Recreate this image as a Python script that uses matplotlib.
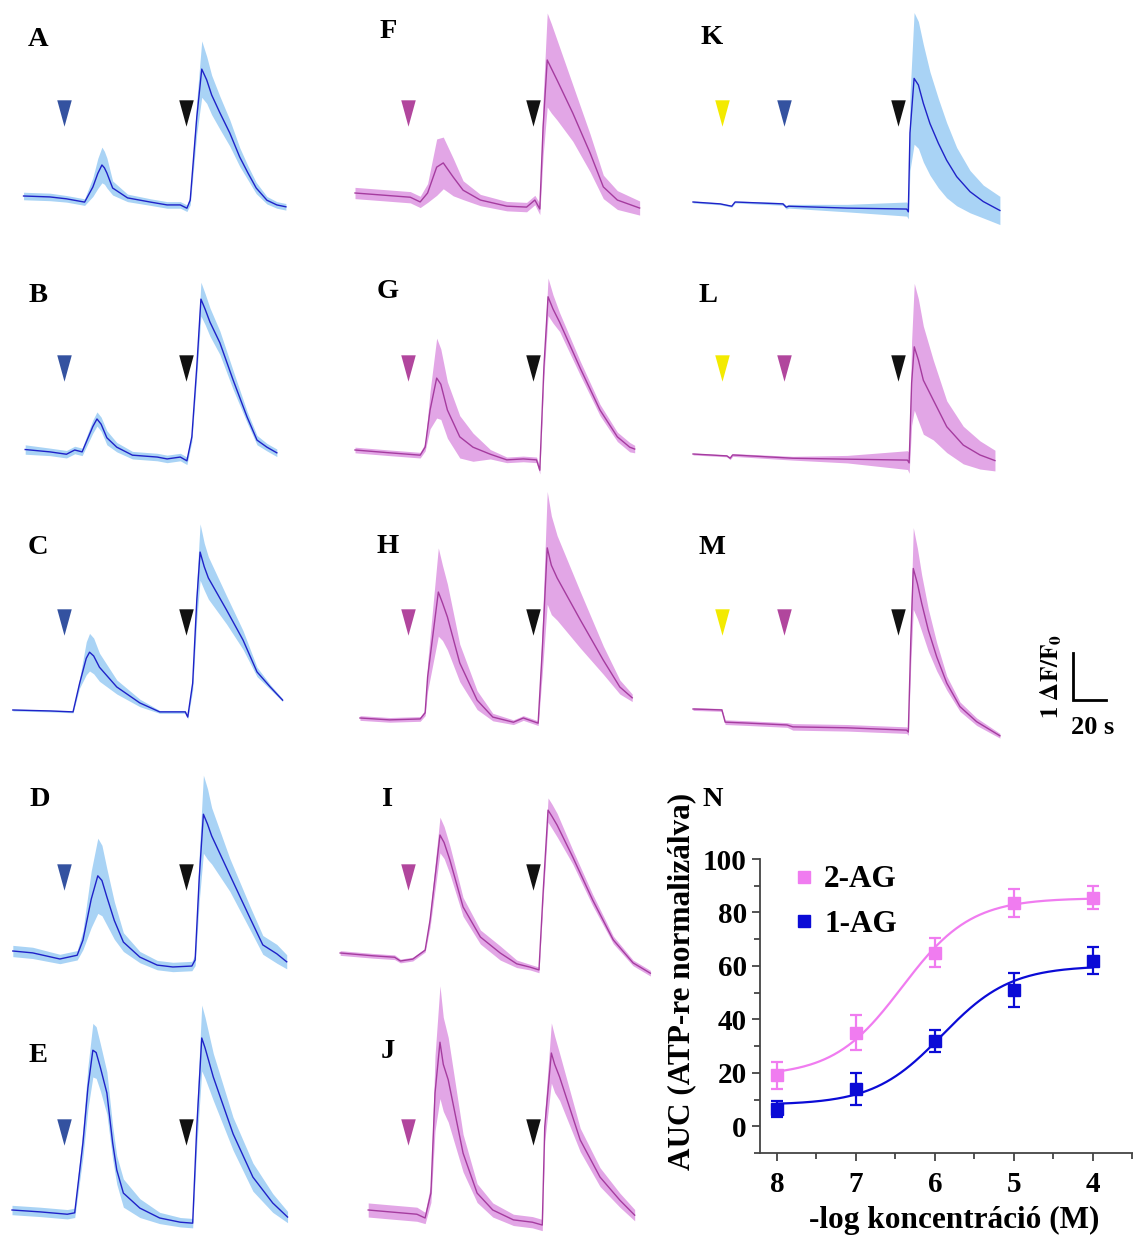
import numpy as np
import matplotlib
matplotlib.use('Agg')
import matplotlib.pyplot as plt
from matplotlib.path import Path
from matplotlib.lines import Line2D
from matplotlib.ticker import MultipleLocator

# ---- traces: time (s), mean dF/F0, SEM ----
A_t = [7, 23, 33, 44, 49, 52, 54.5, 56, 57.5, 61, 70, 84, 94, 102, 106, 108, 112, 115, 118, 121, 126, 132, 138, 143, 148, 154.5, 160.5, 166]
A_v = [0, -0.02, -0.06, -0.13, 0.19, 0.48, 0.66, 0.6, 0.49, 0.17, -0.04, -0.13, -0.19, -0.19, -0.26, -0.09, 1.68, 2.70, 2.47, 2.15, 1.77, 1.34, 0.83, 0.49, 0.17, -0.09, -0.19, -0.23]
A_s = [0.08, 0.08, 0.07, 0.07, 0.2, 0.32, 0.38, 0.35, 0.32, 0.15, 0.08, 0.07, 0.07, 0.07, 0.07, 0.1, 0.35, 0.6, 0.5, 0.42, 0.35, 0.28, 0.2, 0.15, 0.12, 0.08, 0.07, 0.07]

B_t = [8, 23, 33, 38, 42.5, 49, 51.5, 54, 57.5, 63.5, 73, 88, 94, 102, 106, 109, 112, 114.5, 117, 120, 126, 134, 142.5, 148.5, 154.5, 160.5]
B_v = [0.01, -0.04, -0.09, 0, -0.04, 0.5, 0.66, 0.55, 0.26, 0.06, -0.11, -0.15, -0.19, -0.15, -0.23, 0.28, 1.77, 3.21, 3.0, 2.72, 2.28, 1.49, 0.70, 0.21, 0.06, -0.06]
B_s = [0.1, 0.08, 0.08, 0.08, 0.08, 0.14, 0.15, 0.15, 0.15, 0.1, 0.08, 0.08, 0.08, 0.08, 0.08, 0.1, 0.2, 0.36, 0.33, 0.3, 0.25, 0.2, 0.12, 0.1, 0.08, 0.08]

C_t = [0.5, 23, 37, 41, 45, 47, 49.5, 53, 63.5, 77.5, 89.5, 97.5, 105, 106.5, 109.5, 112, 114, 116.5, 119, 130, 140, 148.5, 156.5, 164]
C_v = [0, -0.02, -0.04, 0.57, 1.1, 1.23, 1.15, 0.91, 0.49, 0.15, -0.04, -0.04, -0.04, -0.15, 0.57, 2.34, 3.36, 3.05, 2.81, 2.13, 1.49, 0.81, 0.49, 0.21]
C_s = [0.02, 0.02, 0.02, 0.1, 0.35, 0.4, 0.38, 0.3, 0.15, 0.08, 0.03, 0.03, 0.03, 0.04, 0.15, 0.4, 0.6, 0.5, 0.45, 0.3, 0.2, 0.1, 0.05, 0.03]

D_t = [0.5, 12.5, 29, 39.5, 43, 48, 52, 54.5, 57.5, 62, 67.5, 77.5, 88, 97.5, 109, 111, 113.5, 116, 118.5, 121, 132, 144, 152, 160.5, 166.5]
D_v = [0, -0.04, -0.17, -0.09, 0.23, 1.1, 1.60, 1.5, 1.15, 0.65, 0.19, -0.13, -0.30, -0.34, -0.32, -0.19, 1.57, 2.91, 2.7, 2.45, 1.62, 0.72, 0.13, -0.06, -0.23]
D_s = [0.12, 0.12, 0.1, 0.1, 0.2, 0.6, 0.8, 0.75, 0.6, 0.4, 0.2, 0.12, 0.1, 0.1, 0.1, 0.12, 0.5, 0.83, 0.75, 0.6, 0.35, 0.25, 0.2, 0.2, 0.15]

E_t = [0, 17, 33.5, 38, 43, 46, 49, 51, 53.5, 57.5, 61, 63.5, 67.5, 77.5, 89.5, 102, 109.5, 112, 115, 117, 122, 134, 146, 158, 167]
E_v = [0, -0.04, -0.09, -0.06, 1.43, 2.6, 3.40, 3.35, 3.04, 2.49, 1.43, 0.85, 0.36, 0.04, -0.17, -0.26, -0.28, 1.77, 3.66, 3.45, 2.83, 1.62, 0.70, 0.15, -0.15]
E_s = [0.1, 0.1, 0.1, 0.1, 0.3, 0.45, 0.57, 0.55, 0.5, 0.45, 0.35, 0.3, 0.3, 0.2, 0.12, 0.1, 0.1, 0.4, 0.7, 0.65, 0.5, 0.35, 0.3, 0.2, 0.12]

F_t = [0, 15, 33.5, 39.5, 44, 49.5, 53.5, 59.5, 65.5, 76, 92, 104, 109, 112, 114, 116.5, 119, 122.5, 132, 142.5, 150.5, 159, 172.5]
F_v = [0, -0.04, -0.09, -0.19, 0, 0.55, 0.64, 0.34, 0.06, -0.15, -0.28, -0.30, -0.15, -0.34, 1.40, 2.83, 2.65, 2.40, 1.70, 0.85, 0.13, -0.15, -0.32]
F_s = [0.12, 0.12, 0.12, 0.12, 0.2, 0.6, 0.55, 0.4, 0.2, 0.12, 0.1, 0.1, 0.1, 0.12, 0.6, 1.0, 0.95, 0.85, 0.6, 0.4, 0.25, 0.2, 0.15]

G_t = [0, 21, 39.5, 42.5, 45.5, 49.5, 52, 56, 63.5, 71.5, 82, 92, 102, 110, 112, 114.5, 117, 120, 124, 136.5, 148.5, 159, 166.5, 169.5]
G_v = [0, -0.06, -0.11, 0.06, 0.85, 1.53, 1.4, 0.85, 0.28, 0.06, -0.09, -0.21, -0.19, -0.21, -0.43, 1.77, 3.26, 3.0, 2.72, 1.74, 0.85, 0.28, 0.06, 0.02]
G_s = [0.06, 0.06, 0.06, 0.08, 0.4, 0.85, 0.75, 0.6, 0.45, 0.3, 0.1, 0.06, 0.06, 0.06, 0.08, 0.2, 0.4, 0.3, 0.2, 0.15, 0.12, 0.1, 0.1, 0.08]

H_t = [3, 21, 39.5, 42.5, 44, 50.5, 53, 56, 63.5, 74, 83.5, 96, 102, 111, 113.5, 116.5, 119, 122.5, 136.5, 150.5, 160.5, 168]
H_v = [0, -0.04, -0.02, 0.11, 0.87, 2.68, 2.45, 2.15, 1.17, 0.38, 0.02, -0.09, 0, -0.11, 1.45, 3.62, 3.25, 2.98, 2.09, 1.23, 0.66, 0.43]
H_s = [0.05, 0.05, 0.05, 0.06, 0.3, 0.94, 0.8, 0.7, 0.4, 0.2, 0.08, 0.05, 0.05, 0.05, 0.5, 1.2, 1.05, 0.9, 0.6, 0.3, 0.15, 0.08]

I_t = [-9, 11, 24, 27.5, 35, 42.5, 45.5, 51.5, 54, 57.5, 65.5, 76, 88, 98, 106, 111.5, 114, 117, 119.5, 122.5, 132, 144, 156.5, 168.5, 179]
I_v = [0, -0.06, -0.09, -0.17, -0.13, 0.06, 0.70, 2.51, 2.35, 1.98, 0.98, 0.34, 0, -0.23, -0.30, -0.36, 1.28, 3.04, 2.9, 2.72, 2.04, 1.13, 0.28, -0.21, -0.43]
I_s = [0.05, 0.05, 0.05, 0.04, 0.04, 0.04, 0.15, 0.38, 0.34, 0.3, 0.2, 0.15, 0.15, 0.08, 0.06, 0.06, 0.15, 0.26, 0.26, 0.25, 0.15, 0.12, 0.08, 0.06, 0.06]

J_t = [8, 21, 37.5, 42.5, 46, 48.5, 51.5, 53.5, 56.5, 65.5, 74, 83.5, 96, 107.5, 113.5, 115, 119, 121, 124, 136.5, 148.5, 160.5, 169.5]
J_v = [0, -0.04, -0.09, -0.17, 0.36, 2.49, 3.57, 3.1, 2.77, 1.21, 0.36, 0, -0.21, -0.26, -0.32, 1.77, 3.34, 3.1, 2.83, 1.49, 0.70, 0.21, -0.11]
J_s = [0.15, 0.15, 0.15, 0.12, 0.2, 0.8, 1.2, 1.0, 0.9, 0.4, 0.2, 0.15, 0.12, 0.12, 0.12, 0.3, 0.64, 0.6, 0.5, 0.25, 0.2, 0.15, 0.12]

K_t = [0, 16.5, 23.5, 25.5, 54.5, 56.5, 58, 93.5, 129.5, 130.5, 131.5, 134, 136.6, 139.6, 143.6, 148.7, 153.7, 159.8, 167.9, 175.9, 186]
K_v = [0, -0.04, -0.09, 0, -0.04, -0.11, -0.09, -0.13, -0.15, -0.21, 1.47, 2.63, 2.49, 2.10, 1.67, 1.25, 0.89, 0.54, 0.22, 0.01, -0.18]
K_s = [0.02, 0.02, 0.02, 0.02, 0.03, 0.04, 0.04, 0.08, 0.15, 0.15, 0.8, 1.4, 1.35, 1.25, 1.1, 0.95, 0.8, 0.62, 0.45, 0.35, 0.3]

L_t = [0, 20.5, 22.5, 24, 60.5, 93.5, 130, 131, 132.5, 134.1, 136.6, 139.6, 145.6, 153.8, 163.8, 173.9, 183]
L_v = [0, -0.04, -0.09, -0.02, -0.09, -0.11, -0.13, -0.19, 1.51, 2.28, 2.0, 1.57, 1.15, 0.58, 0.19, -0.02, -0.14]
L_s = [0.02, 0.02, 0.03, 0.03, 0.04, 0.08, 0.2, 0.22, 0.9, 1.35, 1.3, 1.15, 0.85, 0.55, 0.4, 0.3, 0.22]

M_t = [0, 17.5, 19.5, 33, 57, 60.5, 93.5, 129.5, 130.5, 132, 133.5, 136, 138.6, 142.6, 147.7, 153.8, 161.8, 171.9, 186]
M_v = [0, -0.02, -0.28, -0.30, -0.34, -0.38, -0.40, -0.45, -0.49, 1.47, 2.99, 2.67, 2.25, 1.68, 1.11, 0.55, 0.05, -0.27, -0.57]
M_s = [0.03, 0.03, 0.05, 0.05, 0.05, 0.07, 0.07, 0.07, 0.07, 0.5, 0.87, 0.75, 0.6, 0.45, 0.3, 0.15, 0.1, 0.08, 0.05]

# application times (s) of drugs per column
col1_arrows = [('blue', 31.5), ('black', 105.5)]
col2_arrows = [('mag', 32), ('black', 108)]
colK_arrows = [('yellow', 17.6), ('blue', 55.2), ('black', 124.2)]
colLM_arrows = [('yellow', 17.6), ('mag', 55.2), ('black', 124.2)]

# ---- dose response (panel N) ----
conc = [8, 7, 6, 5, 4]
ag2_mean = [19, 35, 65, 83.5, 85.5]
ag2_err = [5, 6.6, 5.3, 5.2, 4.3]
ag1_mean = [6.5, 14, 32, 51, 62]
ag1_err = [3.1, 6, 4.2, 6.4, 5]

# ---- styling ----
plt.rcParams['font.family'] = ['Liberation Serif', 'DejaVu Serif']
plt.rcParams['font.weight'] = 'bold'
plt.rcParams['mathtext.fontset'] = 'stix'

BLUE_LINE, BLUE_BAND = '#1f22c8', '#a9d3f5'
PINK_LINE, PINK_BAND = '#a53c9f', '#e2a6e6'
ARROW_COL = {'blue': '#3452a0', 'mag': '#b1469d', 'black': '#111111', 'yellow': '#f3ea00'}
AG2_COL, AG1_COL = '#f07cf0', '#0b0bd6'

W, H = 1133, 1239
PX_S, PX_U = 1.65, 47.0   # pixels per second, pixels per dF/F0 unit
fig = plt.figure(figsize=(W / 100, H / 100), dpi=100)


def px_axes(left, top, width, height):
    return fig.add_axes([left / W, 1 - (top + height) / H, width / W, height / H])


tri = Path([(-0.55, 1), (0.55, 1), (0, -1), (-0.55, 1)],
           [Path.MOVETO, Path.LINETO, Path.LINETO, Path.CLOSEPOLY])

col_x0 = [12, 355, 693]
row_arrow_px = [113, 368, 622, 877, 1132]

# label, t, v, sem, color kind, column, row, zero line (px), arrows
panels = [
    ('A', A_t, A_v, A_s, 'blue', 0, 0, 196, col1_arrows),
    ('B', B_t, B_v, B_s, 'blue', 0, 1, 450, col1_arrows),
    ('C', C_t, C_v, C_s, 'blue', 0, 2, 710, col1_arrows),
    ('D', D_t, D_v, D_s, 'blue', 0, 3, 951, col1_arrows),
    ('E', E_t, E_v, E_s, 'blue', 0, 4, 1210, col1_arrows),
    ('F', F_t, F_v, F_s, 'pink', 1, 0, 193, col2_arrows),
    ('G', G_t, G_v, G_s, 'pink', 1, 1, 450, col2_arrows),
    ('H', H_t, H_v, H_s, 'pink', 1, 2, 718, col2_arrows),
    ('I', I_t, I_v, I_s, 'pink', 1, 3, 953, col2_arrows),
    ('J', J_t, J_v, J_s, 'pink', 1, 4, 1210, col2_arrows),
    ('K', K_t, K_v, K_s, 'blue', 2, 0, 202, colK_arrows),
    ('L', L_t, L_v, L_s, 'pink', 2, 1, 454, colLM_arrows),
    ('M', M_t, M_v, M_s, 'pink', 2, 2, 709, colLM_arrows),
]
label_px = {'A': (38, 40), 'B': (38, 295), 'C': (38, 548), 'D': (40, 800), 'E': (38, 1055),
            'F': (388, 32), 'G': (388, 291), 'H': (388, 547), 'I': (388, 800), 'J': (388, 1052),
            'K': (712, 38), 'L': (708, 295), 'M': (712, 548), 'N': (713, 800)}

T0, T1, V0, V1 = -12, 190, -1.0, 4.2
for lab, t, v, s, kind, col, row, zero, arrows in panels:
    ax = px_axes(col_x0[col] + T0 * PX_S, zero - V1 * PX_U, (T1 - T0) * PX_S, (V1 - V0) * PX_U)
    ax.set_xlim(T0, T1)
    ax.set_ylim(V0, V1)
    ax.axis('off')
    t, v, s = np.array(t), np.array(v), np.array(s)
    line_c, band_c = (BLUE_LINE, BLUE_BAND) if kind == 'blue' else (PINK_LINE, PINK_BAND)
    ax.fill_between(t, v - s, v + s, color=band_c, lw=0, clip_on=False)
    ax.plot(t, v, color=line_c, lw=1.0, clip_on=False, solid_joinstyle='round')
    av = (zero - row_arrow_px[row]) / PX_U
    for c, ta in arrows:
        ax.plot(ta, av, marker=tri, ms=19, color=ARROW_COL[c], mec='none', clip_on=False)

for lab, (x, y) in label_px.items():
    fig.text(x / W, 1 - y / H, lab, ha='center', va='center', fontsize=20.5, fontweight='bold')

# scale bar (20 s, 1 dF/F0)
axs = px_axes(1073, 700 - PX_U, 20 * PX_S, PX_U)
axs.set_xlim(0, 20)
axs.set_ylim(0, 1)
axs.axis('off')
axs.plot([0, 0, 20], [1, 0, 0], color='black', lw=2, clip_on=False, solid_joinstyle='miter')
fig.text(1093 / W, 1 - 728 / H, '20 s', ha='center', va='center', fontsize=19, fontweight='bold')
fig.text(1051 / W, 1 - 676 / H, r'$\mathbf{1\ \Delta F/F_0}$', ha='center', va='center',
         fontsize=18, rotation=90)

# ---- panel N ----
axN = px_axes(760, 859, 373, 294)


def fit_sigmoid(x, y):
    # least squares sigmoid (Hill slope 1) through the plotted means
    x, y = np.array(x, float), np.array(y, float)
    best = None
    for c50 in np.arange(4.0, 8.0, 0.005):
        f = 1.0 / (1.0 + 10 ** (x - c50))
        Amat = np.column_stack([np.ones_like(f), f])
        coef = np.linalg.lstsq(Amat, y, rcond=None)[0]
        err = np.sum((Amat @ coef - y) ** 2)
        if best is None or err < best[0]:
            best = (err, c50, coef)
    return best[1], best[2]


xs = np.linspace(8, 4, 200)
for name, m, e, c in [('2-AG', ag2_mean, ag2_err, AG2_COL), ('1-AG', ag1_mean, ag1_err, AG1_COL)]:
    c50, (b, a) = fit_sigmoid(conc, m)
    axN.plot(xs, b + a / (1 + 10 ** (xs - c50)), color=c, lw=1.6)
    axN.errorbar(conc, m, yerr=e, fmt='s', ms=8, color=c, capsize=4, elinewidth=1.6,
                 capthick=1.6)

axN.set_xlim(8.215, 3.49)
axN.set_ylim(-10, 100)
axN.set_xticks(conc)
axN.set_yticks([0, 20, 40, 60, 80, 100])
axN.xaxis.set_minor_locator(MultipleLocator(0.5))
axN.yaxis.set_minor_locator(MultipleLocator(10))
axN.spines['top'].set_visible(False)
axN.spines['right'].set_visible(False)
for sp in ['left', 'bottom']:
    axN.spines[sp].set_color('#444444')
    axN.spines[sp].set_linewidth(1.3)
axN.tick_params(which='both', direction='out', color='#444444', width=1.3, labelsize=21)
axN.tick_params(which='major', length=6)
axN.tick_params(which='minor', length=4)
axN.tick_params(axis='x', pad=7)
axN.set_ylabel('AUC (ATP-re normalizálva)', fontsize=22.5, fontweight='bold')
axN.yaxis.set_label_coords(-0.17, 0.585)
axN.set_xlabel('-log koncentráció (M)', fontsize=22.5, fontweight='bold')
axN.xaxis.set_label_coords(0.52, -0.18)
handles = [Line2D([], [], marker='s', ms=8, ls='none', color=AG2_COL),
           Line2D([], [], marker='s', ms=8, ls='none', color=AG1_COL)]
axN.legend(handles, ['2-AG', '1-AG'], loc='upper left', bbox_to_anchor=(0.088, 0.978),
           frameon=False, fontsize=22.5, handlelength=0.7, handletextpad=0.3,
           labelspacing=0.5, borderaxespad=0, borderpad=0)

fig.savefig('out.png', dpi=100)
